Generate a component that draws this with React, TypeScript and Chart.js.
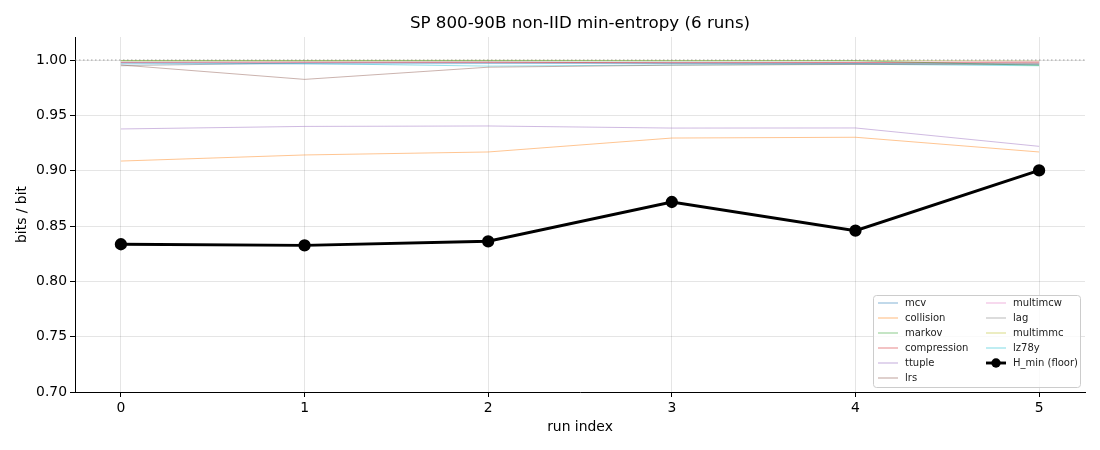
import { useEffect, useRef } from "react"
import { Chart, registerables } from "chart.js"

Chart.register(...registerables)

const runs = [0, 1, 2, 3, 4, 5]
const xTickLabels = ["0", "1", "2", "3", "4", "5"]
const yTicks = [0.7, 0.75, 0.8, 0.85, 0.9, 0.95, 1.0]
const yTickLabels = ["0.70", "0.75", "0.80", "0.85", "0.90", "0.95", "1.00"]

const estimatorNames = ["mcv", "collision", "markov", "compression", "ttuple", "lrs", "multimcw", "lag", "multimmc", "lz78y"]
const estimatorColors = ["#1f77b4", "#ff7f0e", "#2ca02c", "#d62728", "#9467bd", "#8c564b", "#e377c2", "#7f7f7f", "#bcbd22", "#17becf"]

const mcv = [0.9965, 0.9965, 0.9968, 0.9968, 0.9968, 0.9962]
const collision = [0.9087, 0.9142, 0.9169, 0.9295, 0.9302, 0.9169]
const markov = [0.9993, 0.9993, 0.9994, 0.9992, 0.9993, 0.9952]
const compression = [0.998, 0.9982, 0.998, 0.9975, 0.9978, 0.9975]
const ttuple = [0.9377, 0.94, 0.9404, 0.9385, 0.9386, 0.922]
const lrs = [0.9955, 0.9825, 0.9935, 0.9953, 0.996, 0.9962]
const multimcw = [0.9978, 0.9978, 0.998, 0.998, 0.998, 0.9985]
const lag = [0.9948, 0.9975, 0.998, 0.9975, 0.997, 0.9972]
const multimmc = [0.9996, 0.9996, 0.9997, 0.9996, 0.9995, 0.999]
const lz78y = [0.9975, 0.9968, 0.9945, 0.9955, 0.9962, 0.9948]
const hMin = [0.8335, 0.8325, 0.8362, 0.8717, 0.8458, 0.9002]

const estimatorValues = [mcv, collision, markov, compression, ttuple, lrs, multimcw, lag, multimmc, lz78y]

const TITLE = "SP 800-90B non-IID min-entropy (6 runs)"
const FONT = "'DejaVu Sans', sans-serif"

function withAlpha(hex: string, a: number) {
  const n = parseInt(hex.slice(1), 16)
  return `rgba(${(n >> 16) & 255},${(n >> 8) & 255},${n & 255},${a})`
}

// matplotlib centres the title over the axes, not the canvas
const axesTitle = {
  id: "axesTitle",
  afterDraw(chart: any) {
    const { ctx, chartArea } = chart
    ctx.save()
    ctx.font = `16.7px ${FONT}`
    ctx.fillStyle = "#000"
    ctx.textAlign = "center"
    ctx.textBaseline = "middle"
    ctx.fillText(TITLE, (chartArea.left + chartArea.right) / 2, chartArea.top - 13)
    ctx.restore()
  },
}

// legend in the lower right corner, two columns like matplotlib's ncol=2
const cornerLegend = {
  id: "cornerLegend",
  afterDraw(chart: any) {
    const { ctx, chartArea } = chart
    const items = chart.data.datasets.filter((d: any) => !d.hideInLegend)
    const rowH = 15
    const rows = Math.ceil(items.length / 2)
    const w = 207
    const h = rows * rowH + 2
    const x0 = chartArea.right - 5 - w
    const y0 = chartArea.bottom - 5 - h
    ctx.save()
    ctx.fillStyle = "rgba(255,255,255,0.8)"
    ctx.strokeStyle = "#cccccc"
    ctx.lineWidth = 1
    ctx.beginPath()
    ctx.roundRect(x0 + 0.5, y0 + 0.5, w, h, 3)
    ctx.fill()
    ctx.stroke()
    ctx.font = `10px ${FONT}`
    ctx.textBaseline = "middle"
    items.forEach((d: any, i: number) => {
      const col = i < rows ? 0 : 1
      const row = i < rows ? i : i - rows
      const lx = x0 + 5 + col * 108
      const ly = y0 + 8 + row * rowH
      ctx.strokeStyle = d.legendColor || d.borderColor
      ctx.lineWidth = d.borderWidth
      ctx.beginPath()
      ctx.moveTo(lx, ly)
      ctx.lineTo(lx + 20, ly)
      ctx.stroke()
      if (d.pointRadius > 0) {
        ctx.fillStyle = d.pointBackgroundColor
        ctx.beginPath()
        ctx.arc(lx + 10, ly, d.pointRadius, 0, Math.PI * 2)
        ctx.fill()
      }
      ctx.fillStyle = "#222"
      ctx.fillText(d.label, lx + 27, ly + 0.5)
    })
    ctx.restore()
  },
}

export default function App() {
  const chartRef = useRef<HTMLCanvasElement>(null)
  const chartInstance = useRef<Chart | null>(null)

  useEffect(() => {
    document.body.style.margin = "0"
    if (!chartRef.current) return
    const ctx = chartRef.current.getContext("2d")
    if (!ctx) return
    if (chartInstance.current) chartInstance.current.destroy()

    const estimatorSets = estimatorNames.map((name, i) => ({
      label: name,
      data: runs.map((r, j) => ({ x: r, y: estimatorValues[i][j] })),
      borderColor: withAlpha(estimatorColors[i], 0.45),
      backgroundColor: withAlpha(estimatorColors[i], 0.45),
      legendColor: withAlpha(estimatorColors[i], 0.55),
      borderWidth: 1,
      pointRadius: 0,
      tension: 0,
    }))

    chartInstance.current = new Chart(ctx, {
      type: "line",
      data: {
        datasets: [
          {
            label: "ideal",
            hideInLegend: true,
            data: [
              { x: -0.25, y: 1 },
              { x: 5.25, y: 1 },
            ],
            borderColor: "rgba(120,120,120,0.7)",
            borderWidth: 1,
            borderDash: [1.5, 2.5],
            pointRadius: 0,
          } as any,
          ...estimatorSets,
          {
            label: "H_min (floor)",
            data: runs.map((r, j) => ({ x: r, y: hMin[j] })),
            borderColor: "#000000",
            backgroundColor: "#000000",
            pointBackgroundColor: "#000000",
            pointBorderColor: "#000000",
            borderWidth: 2.9,
            pointRadius: 4.7,
            tension: 0,
          },
        ],
      },
      options: {
        animation: false,
        responsive: true,
        maintainAspectRatio: false,
        layout: { padding: { left: 0, right: 15, top: 37, bottom: 0 } },
        plugins: {
          legend: { display: false },
          tooltip: { enabled: false },
          title: { display: false },
        },
        scales: {
          x: {
            type: "linear",
            min: -0.25,
            max: 5.25,
            afterFit: (s: any) => {
              s.height = 58
            },
            afterBuildTicks: (s: any) => {
              s.ticks = runs.map((v) => ({ value: v }))
            },
            ticks: {
              color: "#000",
              font: { family: FONT, size: 13.9 },
              padding: 3,
              maxRotation: 0,
              callback: (v: any) => xTickLabels[runs.indexOf(v)] ?? "",
            },
            grid: { color: "rgba(0,0,0,0.1)", tickColor: "#000", tickLength: 5 },
            border: { color: "#000", width: 1 },
            title: {
              display: true,
              text: "run index",
              color: "#000",
              font: { family: FONT, size: 13.9 },
              padding: { top: 4, bottom: 14 },
            },
          },
          y: {
            min: 0.7,
            max: 1.0208,
            afterFit: (s: any) => {
              s.width = 75
            },
            afterBuildTicks: (s: any) => {
              s.ticks = yTicks.map((v) => ({ value: v }))
            },
            ticks: {
              color: "#000",
              font: { family: FONT, size: 13.9 },
              padding: 3,
              callback: (v: any) => {
                const i = yTicks.findIndex((t) => Math.abs(t - v) < 1e-9)
                return i >= 0 ? yTickLabels[i] : ""
              },
            },
            grid: { color: "rgba(0,0,0,0.1)", tickColor: "#000", tickLength: 5 },
            border: { color: "#000", width: 1 },
            title: {
              display: true,
              text: "bits / bit",
              color: "#000",
              font: { family: FONT, size: 13.9 },
              padding: { top: 14, bottom: 14 },
            },
          },
        },
      },
      plugins: [axesTitle, cornerLegend],
    })

    return () => {
      if (chartInstance.current) {
        chartInstance.current.destroy()
        chartInstance.current = null
      }
    }
  }, [])

  return (
    <div style={{ width: 1100, height: 450, position: "relative" }}>
      <canvas ref={chartRef} aria-label="SP 800-90B non-IID min-entropy chart" role="img"></canvas>
    </div>
  )
}
